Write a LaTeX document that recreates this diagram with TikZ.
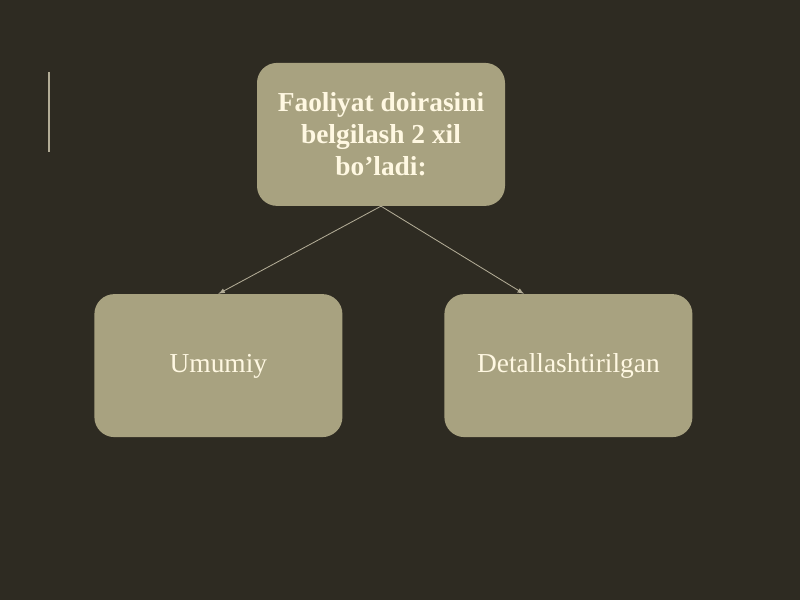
\documentclass[tikz,border=0pt]{standalone}
\usepackage{fontspec}
\setmainfont{Liberation Serif}
\usetikzlibrary{positioning,arrows}
\definecolor{bg}{RGB}{46,43,34}
\definecolor{boxfill}{RGB}{168,162,128}
\definecolor{cream}{RGB}{255,248,226}
\definecolor{wire}{RGB}{178,172,150}

\begin{document}
\begin{tikzpicture}[x=1cm, y=1.cm,
    box/.style={rectangle, rounded corners=0.5cm, fill=boxfill, minimum width=6.2cm,
      minimum height=3.575cm, text=cream, align=center, inner sep=2pt,
      font=\fontsize{19.5}{22.7}\selectfont}]

      \fill [bg] (0,0) rectangle (20,15);
      \draw [wire, line width=1.4pt] (1.225,13.2) -- (1.225,11.2);

      \node [box, font=\fontsize{19.5}{22.7}\selectfont\bfseries] at (9.525, 11.64) (top) {Faoliyat doirasini\\belgilash 2 xil\\bo’ladi:};
      \node [box, text height=1.25em, text depth=0.3em] at (5.46, 5.86) (left) {Umumiy};
      \node [box, text height=1.25em, text depth=0.3em] at (14.21, 5.86) (right) {Detallashtirilgan};

      \draw [-latex, wire, line width=0.6pt] (top.south) -- (left.north);
      \draw [-latex, wire, line width=0.6pt] (top.south) -- ([xshift=-1.11cm]right.north);
    \end{tikzpicture}
\end{document}
